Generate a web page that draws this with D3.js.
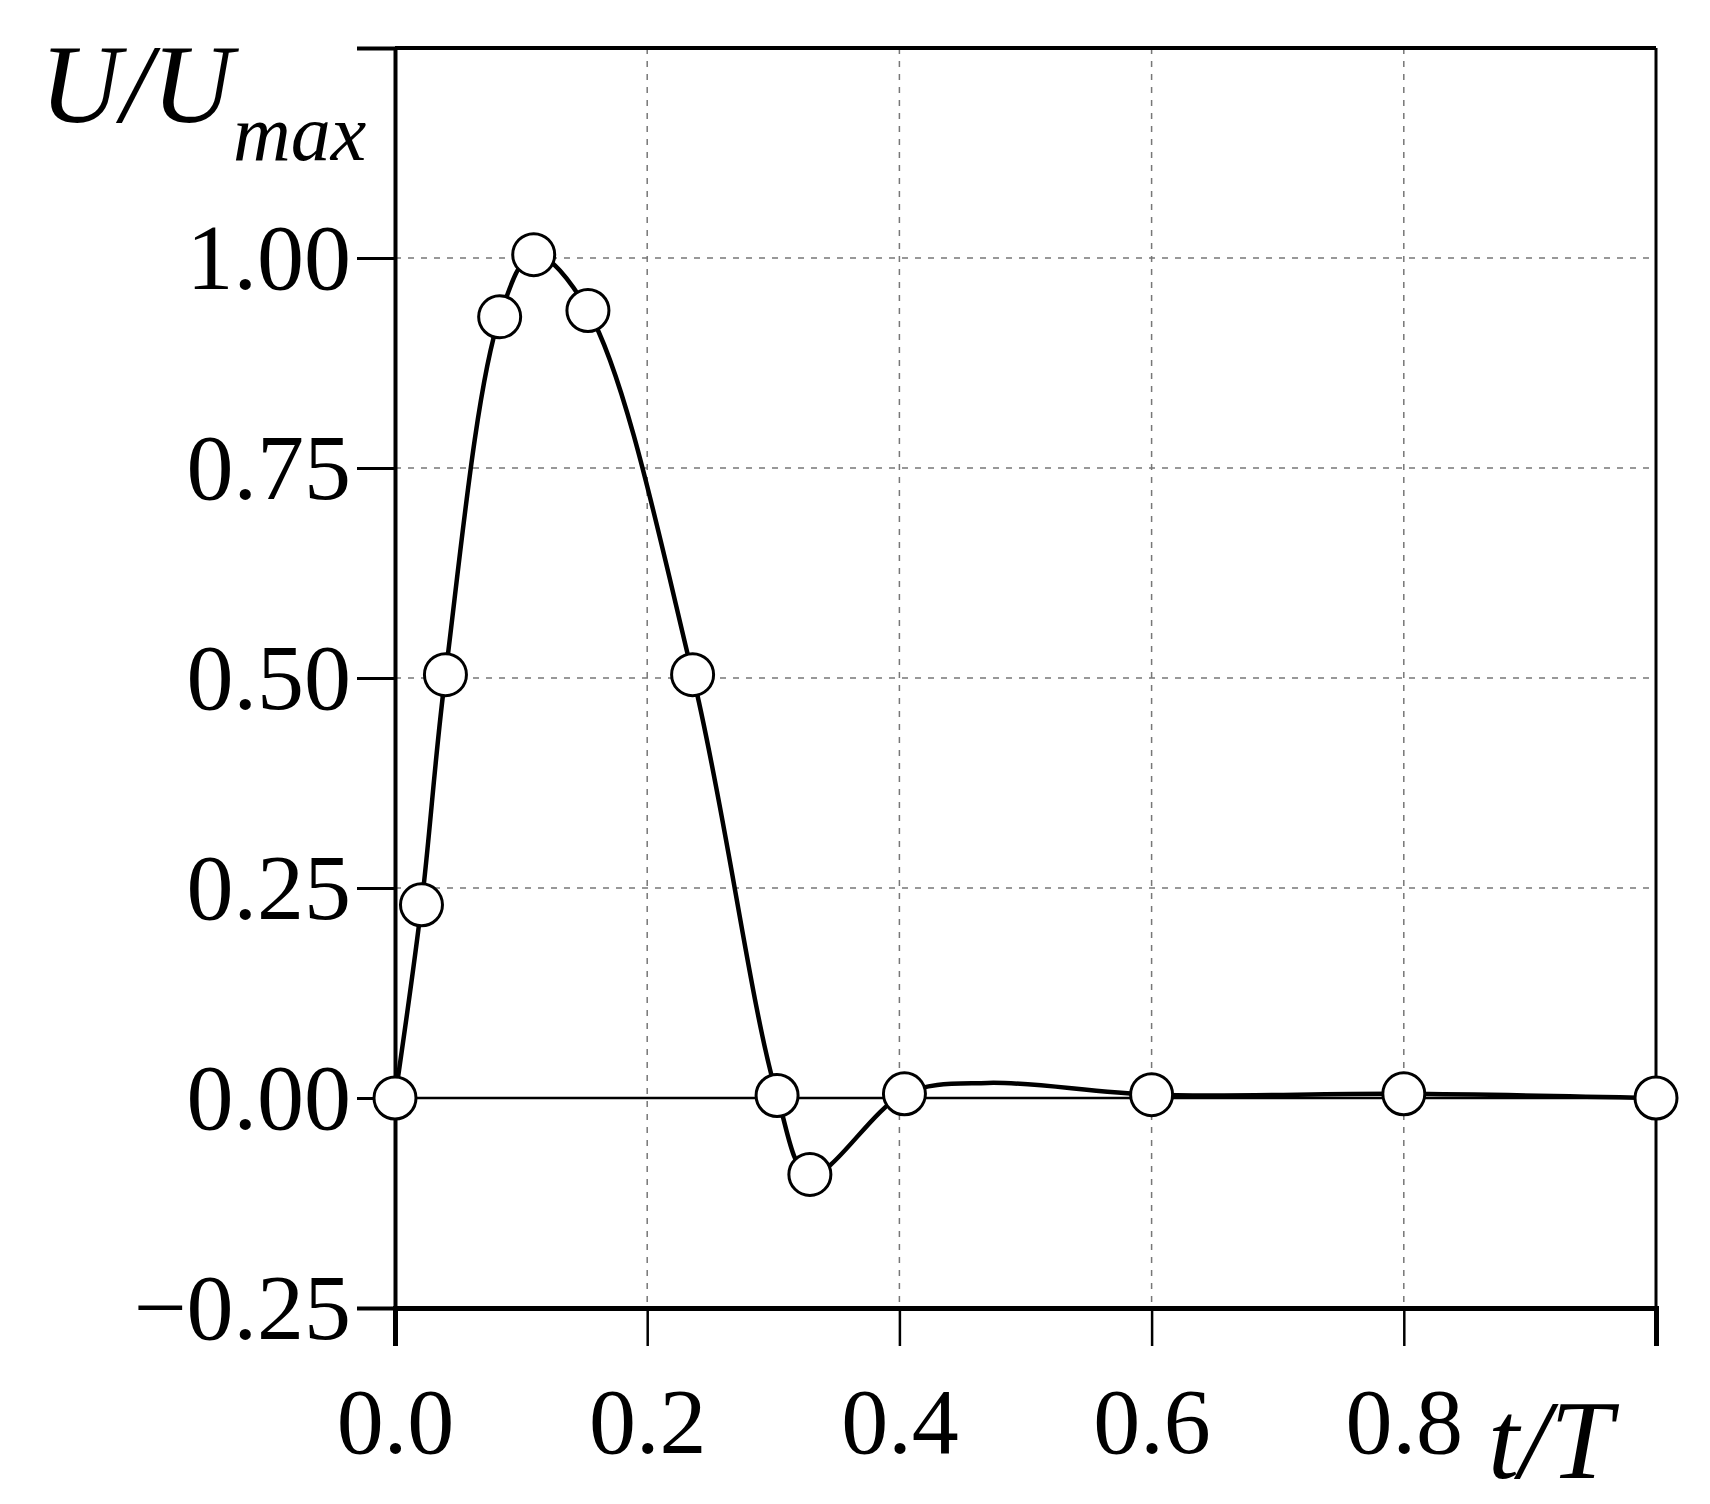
<![CDATA[<!DOCTYPE html>
<html><head><meta charset="utf-8">
<script src="https://cdn.jsdelivr.net/npm/d3@7"></script>
<style>
body{margin:0;background:#fff;}
text{font-family:"Liberation Serif","DejaVu Serif",serif;}
</style></head>
<body><div id="chart"></div>
<script>
var w = 1710, h = 1504;
var margin = {left: 395, right: 54, top: 48, bottom: 196};

// measured points (t/T, U/Umax)
var tVals = [0, 0.021, 0.04, 0.083, 0.110, 0.153, 0.236, 0.303, 0.329, 0.404, 0.6, 0.8, 1.0];
var uVals = [0, 0.23, 0.504, 0.93, 1.004, 0.9375, 0.504, 0.003, -0.091, 0.005, 0.004, 0.005, 0.0];
// extra points the smooth curve goes through (small hump after 0.4)
var bumpT = [0.47];
var bumpU = [0.018];

var xTicks = [0, 0.2, 0.4, 0.6, 0.8, 1.0];
var xTickLabels = ["0.0", "0.2", "0.4", "0.6", "0.8", ""];
var yTicks = [-0.25, 0, 0.25, 0.5, 0.75, 1.0];
var yTickLabels = ["\u22120.25", "0.00", "0.25", "0.50", "0.75", "1.00"];

var svg = d3.select("#chart").append("svg").attr("width", w).attr("height", h);

var x = d3.scaleLinear().domain([0, 1]).range([margin.left, w - margin.right]);
var y = d3.scaleLinear().domain([-0.25, 1.25]).range([h - margin.bottom, margin.top]);

// grid
svg.selectAll(".vgrid").data([0.2, 0.4, 0.6, 0.8]).enter().append("line")
  .attr("x1", function(d){ return x(d); }).attr("x2", function(d){ return x(d); })
  .attr("y1", y(1.25)).attr("y2", y(-0.25))
  .attr("stroke", "#777").attr("stroke-width", 1.5).attr("stroke-dasharray", "6,7");
svg.selectAll(".hgrid").data([0.25, 0.5, 0.75, 1.0]).enter().append("line")
  .attr("x1", x(0)).attr("x2", x(1))
  .attr("y1", function(d){ return y(d); }).attr("y2", function(d){ return y(d); })
  .attr("stroke", "#777").attr("stroke-width", 1.5).attr("stroke-dasharray", "6,7");
// zero line
svg.append("line").attr("x1", x(0)).attr("x2", x(1)).attr("y1", y(0)).attr("y2", y(0))
  .attr("stroke", "#000").attr("stroke-width", 2.5);

// frame
svg.append("line").attr("x1", x(0)).attr("x2", x(1)).attr("y1", y(1.25)).attr("y2", y(1.25)).attr("stroke", "#000").attr("stroke-width", 4);
svg.append("line").attr("x1", x(1)).attr("x2", x(1)).attr("y1", y(1.25)).attr("y2", y(-0.25)).attr("stroke", "#000").attr("stroke-width", 3);

// axes
var yAxis = d3.axisLeft(y).tickValues(yTicks).tickSize(38).tickPadding(6)
  .tickFormat(function(d, i){ return yTickLabels[i]; });
var gy = svg.append("g").attr("transform", "translate(" + x(0) + ",0)").call(yAxis);
var xAxis = d3.axisBottom(x).tickValues(xTicks).tickSize(38).tickPadding(40)
  .tickFormat(function(d, i){ return xTickLabels[i]; });
var gx = svg.append("g").attr("transform", "translate(0," + y(-0.25) + ")").call(xAxis);
[gx, gy].forEach(function(g){
  g.select(".domain").attr("stroke-width", 4);
  g.selectAll(".tick line").attr("stroke-width", 3);
  g.selectAll("text").attr("font-size", 94).attr("fill", "#000")
   .attr("font-family", "Liberation Serif, serif");
});
gx.selectAll(".tick line").attr("stroke-width", 2.5);
gx.select(".domain").attr("stroke-width", 5);

// curve
var curvePts = tVals.map(function(t, i){ return [t, uVals[i]]; })
  .concat(bumpT.map(function(t, i){ return [t, bumpU[i]]; }))
  .sort(function(a, b){ return a[0] - b[0]; });
var line = d3.line().x(function(d){ return x(d[0]); }).y(function(d){ return y(d[1]); })
  .curve(d3.curveCatmullRom.alpha(0.5));
svg.append("path").datum(curvePts).attr("d", line)
  .attr("fill", "none").attr("stroke", "#000").attr("stroke-width", 4.5);

// markers
svg.selectAll(".pt").data(tVals).enter().append("circle")
  .attr("cx", function(d){ return x(d); })
  .attr("cy", function(d, i){ return y(uVals[i]); })
  .attr("r", 21).attr("fill", "#fff").attr("stroke", "#000").attr("stroke-width", 3);

// axis titles
var yl = svg.append("text").attr("x", 40).attr("y", 122).attr("font-size", 112)
  .attr("font-style", "italic");
yl.append("tspan").text("U/U");
yl.append("tspan").attr("font-size", 80).attr("dy", 38).text("max");
svg.append("text").attr("x", 1488).attr("y", 1478).attr("font-size", 112)
  .attr("font-style", "italic").text("t/T");
</script></body></html>
]]>
